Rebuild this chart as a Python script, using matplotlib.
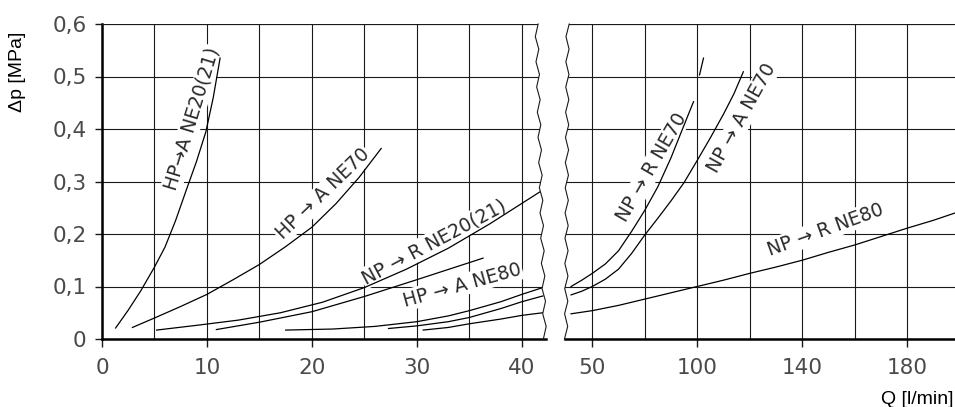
import numpy as np
import matplotlib
matplotlib.use('Agg')
import matplotlib.pyplot as plt
from matplotlib.patches import Polygon

plt.rcParams['font.family'] = ['DejaVu Sans']

# ---- left part, Q = 0 .. 42 l/min ----
hpa_ne20_q = [1.3, 2.5, 3.7, 5.0, 6.0, 7.0, 8.0, 9.0, 9.9, 10.6, 11.25]
hpa_ne20_dp = [0.021, 0.055, 0.092, 0.137, 0.175, 0.225, 0.282, 0.338, 0.395, 0.46, 0.535]

hpa_ne70_q = [2.9, 5.0, 7.5, 10.0, 12.5, 15.0, 17.5, 20.0, 22.3, 24.5, 26.6]
hpa_ne70_dp = [0.022, 0.040, 0.062, 0.085, 0.113, 0.142, 0.176, 0.213, 0.258, 0.308, 0.363]

npr_ne20_q = [5.2, 9.0, 13.0, 17.0, 21.0, 25.0, 29.0, 33.0, 37.0, 41.7]
npr_ne20_dp = [0.017, 0.026, 0.036, 0.050, 0.070, 0.098, 0.133, 0.173, 0.220, 0.280]

short_q = [10.9, 15.0, 20.0, 25.0, 30.0, 36.3]
short_dp = [0.018, 0.032, 0.052, 0.081, 0.113, 0.154]

hpa_ne80_q1 = [17.5, 22, 26, 30, 33, 35, 38, 40, 42]
hpa_ne80_dp1 = [0.017, 0.019, 0.024, 0.033, 0.044, 0.054, 0.071, 0.085, 0.098]
hpa_ne80_q2 = [27.3, 30, 33, 35, 38, 40, 42]
hpa_ne80_dp2 = [0.020, 0.025, 0.033, 0.041, 0.058, 0.071, 0.082]
hpa_ne80_q3 = [30.6, 33, 35, 38, 40, 42]
hpa_ne80_dp3 = [0.017, 0.022, 0.029, 0.038, 0.045, 0.050]

# ---- right part (grid units, first grid line labelled 50) ----
npr_ne70_q = [51.9, 56, 60, 65, 70, 75, 80, 85, 90, 94, 98.6]
npr_ne70_dp = [0.100, 0.112, 0.125, 0.143, 0.168, 0.205, 0.245, 0.290, 0.345, 0.395, 0.452]
npr_ne70_tail_q = [100.9, 102.4]
npr_ne70_tail_dp = [0.503, 0.535]

npa_ne70_q = [51.9, 56, 60, 65, 70, 75, 80, 85, 90, 95, 100, 105, 110, 114, 117.6]
npa_ne70_dp = [0.084, 0.091, 0.100, 0.114, 0.133, 0.163, 0.198, 0.230, 0.263, 0.298,
               0.340, 0.383, 0.428, 0.467, 0.509]

npr_ne80_q = [51.9, 60, 70, 80, 90, 100, 110, 120, 130, 140, 150, 160, 170, 180, 190, 198.3]
npr_ne80_dp = [0.048, 0.054, 0.064, 0.076, 0.088, 0.100, 0.112, 0.125, 0.137, 0.150,
               0.165, 0.179, 0.195, 0.211, 0.226, 0.240]

y_ticks = [0, 0.1, 0.2, 0.3, 0.4, 0.5, 0.6]
y_labels = ['0', '0,1', '0,2', '0,3', '0,4', '0,5', '0,6']
left_ticks = [0, 10, 20, 30, 40]
left_labels = ['0', '10', '20', '30', '40']
left_minor = [5, 15, 25, 35]
right_ticks = [60, 100, 140, 180]
right_labels = ['50', '100', '140', '180']
right_minor = [80, 120, 160]

W, H = 955, 407
fig = plt.figure(figsize=(W / 100, H / 100), dpi=100)
ax1 = fig.add_axes([102 / W, 68 / H, 444 / W, 315 / H])
ax2 = fig.add_axes([565 / W, 68 / H, 390 / W, 315 / H])

ink = '#1a1a1a'
tick_col = '#4a4a4a'


def break_line(x_top, x_bot, amp, n=26):
    yy = np.linspace(0.6, 0, n)
    xx = np.linspace(x_top, x_bot, n) + amp * (-1) ** np.arange(n)
    return xx, yy


def setup(ax, xlim, ticks, labels, minor):
    ax.set_xlim(xlim)
    ax.set_ylim(0, 0.6)
    ax.set_xticks(ticks)
    ax.set_xticklabels(labels)
    ax.set_xticks(minor, minor=True)
    ax.set_yticks(y_ticks)
    ax.set_axisbelow(True)
    ax.grid(True, which='both', color=ink, lw=0.8)
    ax.tick_params(which='minor', length=0)
    ax.tick_params(axis='x', length=6, width=1, pad=8, labelsize=15.5,
                   labelcolor=tick_col, color=ink)
    ax.spines['right'].set_visible(False)
    ax.spines['bottom'].set_linewidth(1.8)
    ax.spines['bottom'].set_color('black')
    ax.spines['top'].set_linewidth(0.8)
    ax.spines['top'].set_color(ink)


setup(ax1, (0, 42.3), left_ticks, left_labels, left_minor)
setup(ax2, (49.6, 198.3), right_ticks, right_labels, right_minor)

ax1.set_yticklabels(y_labels)
ax1.tick_params(axis='y', length=5, width=1, pad=6, labelsize=15.5,
                labelcolor=tick_col, color=ink)
ax1.spines['left'].set_linewidth(1.8)
ax1.spines['left'].set_color('black')
ax2.spines['left'].set_visible(False)
ax2.tick_params(axis='y', left=False, labelleft=False)

# broken-axis wavy edges
wx1, wy1 = break_line(41.4, 42.2, 0.15)
wx2, wy2 = break_line(50.6, 50.0, 0.6)
ax1.plot(wx1, wy1, color=ink, lw=0.8, clip_on=False, zorder=6)
ax2.plot(wx2, wy2, color=ink, lw=0.8, clip_on=False, zorder=6)

clip1 = Polygon([(-5, -0.1), (-5, 0.7), (wx1[0], 0.7)] + list(zip(wx1, wy1)) + [(wx1[-1], -0.1)],
                transform=ax1.transData)
clip2 = Polygon([(300, -0.1), (300, 0.7), (wx2[0], 0.7)] + list(zip(wx2, wy2)) + [(wx2[-1], -0.1)],
                transform=ax2.transData)

for ax, clip in [(ax1, clip1), (ax2, clip2)]:
    for t in (ax.xaxis.get_major_ticks() + ax.xaxis.get_minor_ticks()
              + ax.yaxis.get_major_ticks()):
        t.gridline.set_clip_path(clip)
    ax.spines['top'].set_clip_on(True)
    ax.spines['top'].set_clip_path(clip)

curve = dict(color='black', lw=0.9, zorder=5)
left_curves = [(hpa_ne20_q, hpa_ne20_dp), (hpa_ne70_q, hpa_ne70_dp),
               (npr_ne20_q, npr_ne20_dp), (short_q, short_dp),
               (hpa_ne80_q1, hpa_ne80_dp1), (hpa_ne80_q2, hpa_ne80_dp2),
               (hpa_ne80_q3, hpa_ne80_dp3)]
for q, dp in left_curves:
    ln, = ax1.plot(q, dp, **curve)
    ln.set_clip_path(clip1)

right_curves = [(npr_ne70_q, npr_ne70_dp), (npr_ne70_tail_q, npr_ne70_tail_dp),
                (npa_ne70_q, npa_ne70_dp), (npr_ne80_q, npr_ne80_dp)]
for q, dp in right_curves:
    ln, = ax2.plot(q, dp, **curve)
    ln.set_clip_path(clip2)

lab = dict(rotation_mode='anchor', ha='center', va='center', fontsize=13.5,
           color='#2a2a2a', zorder=4,
           bbox=dict(fc='white', ec='none', pad=1.0))
ax1.text(8.6, 0.42, 'HP→A NE20(21)', rotation=73, **lab)
ax1.text(21.05, 0.276, 'HP → A NE70', rotation=44, **lab)
ax1.text(31.6, 0.185, 'NP → R NE20(21)', rotation=28, **lab)
ax1.text(34.3, 0.103, 'HP → A NE80', rotation=15.5, **lab)
ax2.text(82.5, 0.326, 'NP → R NE70', rotation=60, **lab)
ax2.text(117.1, 0.421, 'NP → A NE70', rotation=61, **lab)
ax2.text(148.8, 0.208, 'NP → R NE80', rotation=20, **lab)

fig.text(18 / W, 1 - 72 / H, 'Δp [MPa]', rotation=90, ha='center', va='center',
         fontsize=14, family='Liberation Sans', color='black')
fig.text(953 / W, 1 - 399 / H, 'Q [l/min]', ha='right', va='center',
         fontsize=14, family='Liberation Sans', color='black')

fig.savefig('out.png', dpi=100)
